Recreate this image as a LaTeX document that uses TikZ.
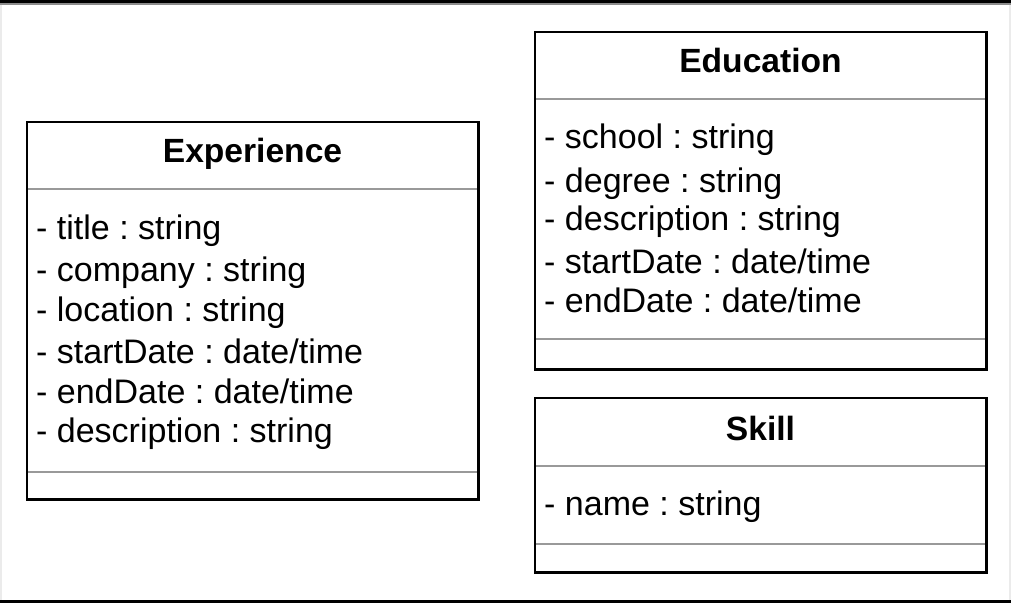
\documentclass[tikz,border=0pt]{standalone}
\usepackage{fontspec}
\setmainfont{Liberation Sans}
\begin{document}
\frenchspacing
\begin{tikzpicture}[x=1pt,y=-1pt,
  boxfill/.style={fill=white,draw=none,inner sep=0pt,anchor=north west},
  border/.style={draw=black,line width=2.2pt},
  sep/.style={draw=black!40,line width=2pt},
  attr/.style={anchor=base west,inner sep=0pt,font=\fontsize{34}{40}\selectfont},
  ttl/.style={anchor=base,inner sep=0pt,font=\fontsize{33.6}{40}\selectfont\bfseries}]
\useasboundingbox (0,0) rectangle (1011,603);
\fill[white] (0,0) rectangle (1011,603);
% screen edges
\fill[black] (0,0) rectangle (1011,3);
\fill[black!45] (0,3) rectangle (1011,4.5);
\fill[black] (0,599.5) rectangle (1011,603);
\fill[black!8] (0,4.5) rectangle (1.5,599.5);
\fill[black!8] (1008.5,4.5) rectangle (1011,599.5);

% Experience
\node[boxfill,minimum width=451pt,minimum height=377pt] (exp) at (27,122) {};
\draw[sep] ([yshift=-67pt]exp.north west) -- ([yshift=-67pt]exp.north east);
\draw[sep] ([yshift=27pt]exp.south west) -- ([yshift=27pt]exp.south east);
\draw[border] (exp.north west) rectangle (exp.south east);
\node[ttl] (expT) at (252.5,162) {Experience};
\node[attr] (e1) at (36,239) {- title : string};
\node[attr] (e2) at (36,281) {- company : string};
\node[attr] (e3) at (36,321) {- location : string};
\node[attr] (e4) at (36,363) {- startDate : date/time};
\node[attr] (e5) at (36,403) {- endDate : date/time};
\node[attr] (e6) at (36,442) {- description : string};

% Education
\node[boxfill,minimum width=451pt,minimum height=337pt] (edu) at (535,32) {};
\draw[sep] ([yshift=-67pt]edu.north west) -- ([yshift=-67pt]edu.north east);
\draw[sep] ([yshift=30pt]edu.south west) -- ([yshift=30pt]edu.south east);
\draw[border] (edu.north west) rectangle (edu.south east);
\node[ttl] (eduT) at (760.5,72) {Education};
\node[attr] (d1) at (544,148) {- school : string};
\node[attr] (d2) at (544,192) {- degree : string};
\node[attr] (d3) at (544,230) {- description : string};
\node[attr] (d4) at (544,273) {- startDate : date/time};
\node[attr] (d5) at (544,312) {- endDate : date/time};

% Skill
\node[boxfill,minimum width=451pt,minimum height=174pt] (sk) at (535,398) {};
\draw[sep] ([yshift=-68pt]sk.north west) -- ([yshift=-68pt]sk.north east);
\draw[sep] ([yshift=28pt]sk.south west) -- ([yshift=28pt]sk.south east);
\draw[border] (sk.north west) rectangle (sk.south east);
\node[ttl] (skT) at (760.5,440) {Skill};
\node[attr] (s1) at (544,515) {- name : string};
\end{tikzpicture}
\end{document}
